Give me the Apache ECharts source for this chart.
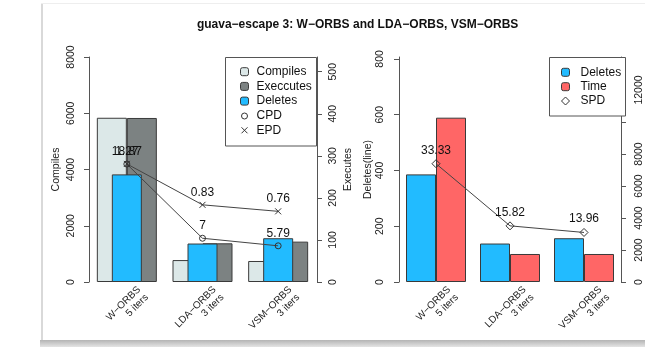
<!DOCTYPE html>
<html><head><meta charset="utf-8">
<script src="https://cdn.jsdelivr.net/npm/echarts@6/dist/echarts.min.js"></script>
<style>html,body{margin:0;padding:0;background:#fff}#c{width:645px;height:347px}</style>
</head><body><div id="c"></div>
<script>
const FONT = '"Liberation Sans", Arial, Helvetica, sans-serif';
const titleText = 'guava−escape 3: W−ORBS and LDA−ORBS, VSM−ORBS';
const categories = ['W−ORBS\n5 iters', 'LDA−ORBS\n3 iters', 'VSM−ORBS\n3 iters'];
const compiles = [5840, 780, 747];
const executes = [390, 92, 96];
const deletes = [386, 138, 157];
const timeVals = [10270, 1750, 1750];
const cpd = [18.87, 7, 5.79];
const epd = [1.27, 0.83, 0.76];
const spd = [33.33, 15.82, 13.96];
const compilesTicks = [0, 2000, 4000, 6000, 8000];
const executesTicks = [0, 100, 200, 300, 400, 500];
const deletesTicks = [0, 200, 400, 600, 800];
const timeTicks = [0, 2000, 4000, 6000, 8000, 10000, 12000, 14000];
const timeTickLabels = [0, 2000, 4000, 6000, 8000, 12000];

const AXC = '#555';
const TXT = '#222';
const BORDER = '#3a3a3a';
const xPath = 'path://M0,0L10,10M10,0L0,10';
const plain = v => String(v);

function valAxis(o) {
  return Object.assign({
    type: 'value', min: 0, splitLine: {show: false},
    axisLine: {show: true, lineStyle: {color: AXC, width: 1}},
    nameLocation: 'middle', nameRotate: 90,
    nameTextStyle: {fontSize: 10.5, color: TXT, fontFamily: FONT}
  }, o);
}
function ticks(vals) {
  return {show: true, length: 5, lineStyle: {color: AXC}, customValues: vals};
}
function labels(vals, margin) {
  return {rotate: 90, margin: margin, fontSize: 10.5, color: TXT, fontFamily: FONT, customValues: vals, formatter: plain};
}
function hiddenVal(grid, max) {
  return {type: 'value', gridIndex: grid, min: 0, max: max, show: false, splitLine: {show: false}};
}
const lblStyle = {show: true, position: 'top', distance: 3, fontSize: 12, color: '#111', fontFamily: FONT};
const ptStyle = {color: 'transparent', borderColor: '#333', borderWidth: 1};
const legText = pad => ({fontSize: 12, color: '#111', fontFamily: FONT, padding: [0, 0, 0, pad]});

const option = {
  animation: false,
  backgroundColor: '#fff',
  textStyle: {fontFamily: FONT},
  graphic: [
    {type: 'rect', shape: {x: 41, y: 3, width: 2, height: 338}, style: {fill: '#d9d9d9'}, z: 0, silent: true},
    {type: 'rect', shape: {x: 41, y: 3, width: 604, height: 1}, style: {fill: '#eeeeee'}, z: 0, silent: true},
    {type: 'rect', shape: {x: 40, y: 340, width: 605, height: 7}, style: {fill: new echarts.graphic.LinearGradient(0, 0, 0, 1, [{offset: 0, color: '#b4b4b4'}, {offset: 1, color: '#e4e4e4'}])}, z: 0, silent: true},
    {type: 'text', x: 357.6, y: 25, style: {text: titleText, font: 'bold 12px ' + FONT, fill: '#111', textAlign: 'center', textVerticalAlign: 'middle'}, silent: true},
    {type: 'rect', shape: {x: 225.5, y: 57.5, width: 91, height: 88.5}, style: {fill: '#fff', stroke: '#555', lineWidth: 1}, z: 3, silent: true},
    {type: 'rect', shape: {x: 549.5, y: 57.5, width: 76, height: 58.5}, style: {fill: '#fff', stroke: '#555', lineWidth: 1}, z: 3, silent: true}
  ],
  legend: [
    {data: ['Compiles', 'Execcutes', 'Deletes'], orient: 'vertical', left: 240, top: 65.7, padding: 0,
     itemWidth: 8, itemHeight: 8, itemGap: 2.7, selectedMode: false, z: 5,
     itemStyle: {borderWidth: 1, borderColor: '#3a3a3a'}, textStyle: legText(3)},
    {data: [{name: 'CPD', icon: 'circle', itemStyle: ptStyle}, {name: 'EPD', icon: xPath, itemStyle: ptStyle}],
     orient: 'vertical', left: 241, top: 110, padding: 0, itemWidth: 6, itemHeight: 6, itemGap: 2.3, selectedMode: false, z: 5,
     textStyle: legText(4)},
    {data: ['Deletes', 'Time'], orient: 'vertical', left: 561, top: 66.3, padding: 0,
     itemWidth: 8, itemHeight: 8, itemGap: 2.4, selectedMode: false, z: 5,
     itemStyle: {borderWidth: 1, borderColor: '#3a3a3a'}, textStyle: legText(6)},
    {data: [{name: 'SPD', icon: 'diamond', itemStyle: ptStyle}], orient: 'vertical', left: 561, top: 95, padding: 0,
     itemWidth: 8, itemHeight: 8, selectedMode: false, z: 5, textStyle: legText(6)}
  ],
  grid: [
    {left: 89, top: 57, width: 227, height: 225},
    {left: 399, top: 57, width: 227, height: 225},
    {left: 105, top: 57, width: 227, height: 225},
    {left: 415, top: 57, width: 227, height: 225}
  ],
  xAxis: [
    {type: 'category', gridIndex: 0, data: categories, show: false},
    {type: 'category', gridIndex: 0, data: categories, show: false},
    {type: 'category', gridIndex: 1, data: categories, show: false},
    {type: 'category', gridIndex: 2, data: categories, axisLine: {show: false}, axisTick: {show: false},
     axisLabel: {interval: 0, rotate: 45, margin: 10, fontSize: 10, color: TXT, fontFamily: FONT, lineHeight: 11}},
    {type: 'category', gridIndex: 3, data: categories, axisLine: {show: false}, axisTick: {show: false},
     axisLabel: {interval: 0, rotate: 45, margin: 10, fontSize: 10, color: TXT, fontFamily: FONT, lineHeight: 11}}
  ],
  yAxis: [
    valAxis({gridIndex: 0, position: 'left', max: 8000, interval: 2000, name: 'Compiles', nameGap: 27,
      axisTick: ticks(compilesTicks), axisLabel: labels(compilesTicks, 12)}),
    valAxis({gridIndex: 0, position: 'right', offset: 1, max: 535, interval: 100, name: 'Executes', nameGap: 26,
      axisTick: ticks(executesTicks), axisLabel: labels(executesTicks, 11)}),
    hiddenVal(0, 807),
    hiddenVal(0, 36),
    hiddenVal(0, 2.42),
    valAxis({gridIndex: 1, position: 'left', max: 807, interval: 200, name: 'Deletes(line)', nameGap: 23,
      axisTick: ticks(deletesTicks), axisLabel: labels(deletesTicks, 13)}),
    valAxis({gridIndex: 1, position: 'right', max: 14062, interval: 2000,
      axisTick: ticks(timeTicks), axisLabel: labels(timeTickLabels, 13)}),
    hiddenVal(1, 63.4),
    hiddenVal(2, 1),
    hiddenVal(3, 1)
  ],
  series: [
    {name: 'Compiles', type: 'bar', xAxisIndex: 0, yAxisIndex: 0, data: compiles, barWidth: 30, barGap: '0%',
     itemStyle: {color: '#DCE8E8', borderColor: BORDER, borderWidth: 1}, z: 2},
    {name: 'Execcutes', type: 'bar', xAxisIndex: 0, yAxisIndex: 1, data: executes, barWidth: 30, barGap: '0%',
     itemStyle: {color: '#7C8282', borderColor: BORDER, borderWidth: 1}, z: 2},
    {name: 'Deletes', type: 'bar', xAxisIndex: 1, yAxisIndex: 2, data: deletes, barWidth: 30,
     itemStyle: {color: '#22BBFF', borderColor: BORDER, borderWidth: 1}, z: 3},
    {name: 'CPD', type: 'line', xAxisIndex: 0, yAxisIndex: 3, data: cpd, symbol: 'circle', symbolSize: 6,
     itemStyle: ptStyle, lineStyle: {color: '#444', width: 1}, label: lblStyle, z: 4},
    {name: 'EPD', type: 'line', xAxisIndex: 0, yAxisIndex: 4, data: epd, symbol: xPath, symbolSize: 6,
     itemStyle: ptStyle, lineStyle: {color: '#444', width: 1}, label: lblStyle, z: 4},
    {name: 'Deletes', type: 'bar', xAxisIndex: 2, yAxisIndex: 5, data: deletes, barWidth: 30, barGap: '0%',
     itemStyle: {color: '#22BBFF', borderColor: BORDER, borderWidth: 1}, z: 2},
    {name: 'Time', type: 'bar', xAxisIndex: 2, yAxisIndex: 6, data: timeVals, barWidth: 30, barGap: '0%',
     itemStyle: {color: '#FF6666', borderColor: BORDER, borderWidth: 1}, z: 2},
    {name: 'SPD', type: 'line', xAxisIndex: 2, yAxisIndex: 7, data: spd, symbol: 'diamond', symbolSize: 8,
     itemStyle: ptStyle, lineStyle: {color: '#444', width: 1}, label: lblStyle, z: 4}
  ]
};
const chart = echarts.init(document.getElementById('c'), null, {renderer: 'canvas'});
chart.setOption(option);
</script>
</body></html>
